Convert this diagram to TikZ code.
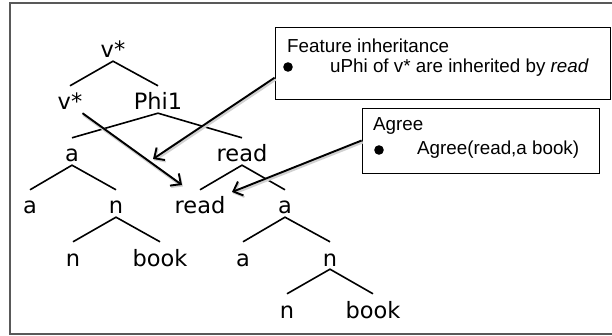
\documentclass[tikz,border=0pt]{standalone}
\usepackage{fontspec}
\setmainfont{Liberation Sans}
\newfontfamily\treefont{DejaVu Sans}
\usetikzlibrary{arrows.meta}

\tikzset{
  word/.style={anchor=base, inner sep=0pt, text height=24pt, text depth=3pt,
    font=\treefont\fontsize{22.5}{26}\selectfont},
  branch/.style={line width=1.6pt},
  notebox/.style={draw, rectangle, line width=0.8pt, inner sep=0pt},
  notetext/.style={anchor=base west, inner sep=0pt, font=\fontsize{18.8}{22}\selectfont},
  pointer/.style={line width=1.9pt, -{Straight Barb[length=8pt,width=15pt,line width=1.9pt]},
    preaction={draw=black!18, line width=3pt, transform canvas={shift={(1pt,-1.5pt)}}}}
}

\begin{document}
\begin{tikzpicture}[x=1pt,y=-1pt]
        \useasboundingbox (0,0) rectangle (612,336);
        \draw[black!65, line width=1.2pt] (10,3) rectangle (650,334);

        % tree
        \node[word] (vtop) at (113,58) {v*};
        \node[word] (vl) at (70,110) {v*};
        \node[word] (phi) at (158,110) {Phi1};
        \node[word] (aa) at (72,162) {a};
        \node[word] (rd) at (242,162) {read};
        \node[word] (al) at (30,214) {a};
        \node[word] (nn) at (116,214) {n};
        \node[word] (rl) at (200,214) {read};
        \node[word] (ar) at (285,214) {a};
        \node[word] (n1) at (73,266) {n};
        \node[word] (bk1) at (160,266) {book};
        \node[word] (a2) at (243,266) {a};
        \node[word] (n2) at (330,266) {n};
        \node[word] (n3) at (287,318) {n};
        \node[word] (bk2) at (373,318) {book};

        \draw[branch] (vl.north) -- (vtop.south) -- (phi.north);
        \draw[branch] (aa.north) -- (phi.south) -- (rd.north);
        \draw[branch] (al.north) -- (aa.south) -- (nn.north);
        \draw[branch] (rl.north) -- (rd.south) -- (ar.north);
        \draw[branch] (n1.north) -- (nn.south) -- (bk1.north);
        \draw[branch] (a2.north) -- (ar.south) -- (n2.north);
        \draw[branch] (n3.north) -- (n2.south) -- (bk2.north);

        % notes
        \node[notebox, minimum width=335pt, minimum height=72pt] (fbox) at (442.5,63) {};
        \node[notetext] (ftitle) at (287,53) {Feature inheritance};
        \node[notetext] (fitem) at (330,73) {uPhi of v* are inherited by \textit{read}};
        \fill (288,67) circle (4.8pt);

        \node[notebox, minimum width=237pt, minimum height=65pt] (abox) at (480.5,140.5) {};
        \node[notetext] (atitle) at (373,131) {Agree};
        \node[notetext] (aitem) at (417,155) {Agree(read,a book)};
        \fill (379,150) circle (4.8pt);

        % pointers
        \coordinate (tipf) at (153,159);
        \coordinate (tipv) at (182,185);
        \coordinate (tipa) at (232,192);
        \draw[pointer] (fbox.185) -- (tipf);
        \draw[pointer] (vl.south east) -- (tipv);
        \draw[pointer] (abox.west) -- (tipa);
    \end{tikzpicture}
\end{document}
